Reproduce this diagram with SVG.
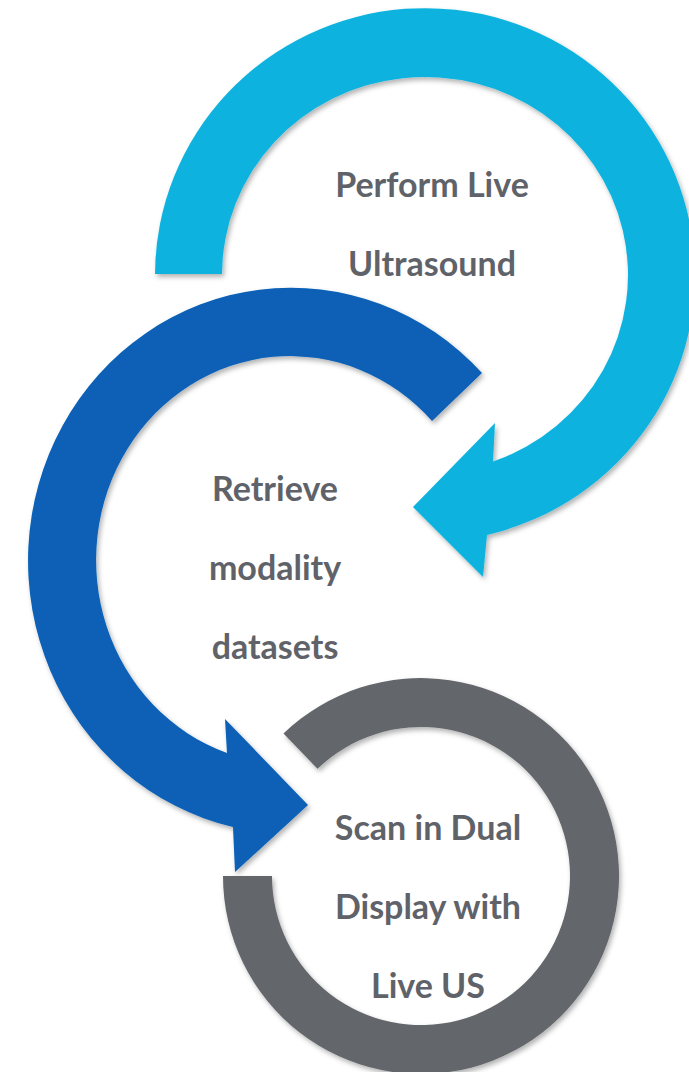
<svg xmlns="http://www.w3.org/2000/svg" width="689" height="1072" viewBox="0 0 689 1072">
  <defs>
    <filter id="shadow" x="-10%" y="-10%" width="120%" height="120%">
      <feDropShadow dx="2" dy="3" stdDeviation="2.5" flood-color="#000" flood-opacity="0.3"/>
    </filter>
  </defs>
  <style>
    .lbl { font-family: Lato, "Open Sans", sans-serif; font-weight: bold; font-size: 34px; fill: #5F6369; text-anchor: middle; }
    .sky { fill: #0BB3DE; filter: url(#shadow); }
    .navy { fill: #0860B6; filter: url(#shadow); }
    .slate { fill: #63666B; filter: url(#shadow); }
  </style>
  <rect width="689" height="1072" fill="#FFFFFF"/>
  <g id="step1">
    <path class="sky" d="M 155 274 A 270 267 0 1 1 487 535 L 483 577 L 413 507 L 495 423 L 493 461.5 A 203 198 0 1 0 222 274 Z"/>
    <text class="lbl" x="432" y="197">Perform Live</text>
    <text class="lbl" x="432" y="276">Ultrasound</text>
  </g>
  <g id="step2">
    <path class="navy" d="M 482 373 A 263 273 0 1 0 233 827 L 235 872 L 308 805 L 225 719 L 227 753 A 194 204 0 1 1 432 421 Z"/>
    <text class="lbl" x="275" y="501">Retrieve</text>
    <text class="lbl" x="275" y="580">modality</text>
    <text class="lbl" x="275" y="659">datasets</text>
  </g>
  <g id="step3">
    <path class="slate" d="M 223 876 A 198 198 0 1 0 283.5 733.6 L 317.5 768.8 A 149 149 0 1 1 272 876 Z"/>
    <text class="lbl" x="428" y="840">Scan in Dual</text>
    <text class="lbl" x="428" y="919">Display with</text>
    <text class="lbl" x="428" y="998">Live US</text>
  </g>
  <g id="connectors"/>
</svg>
